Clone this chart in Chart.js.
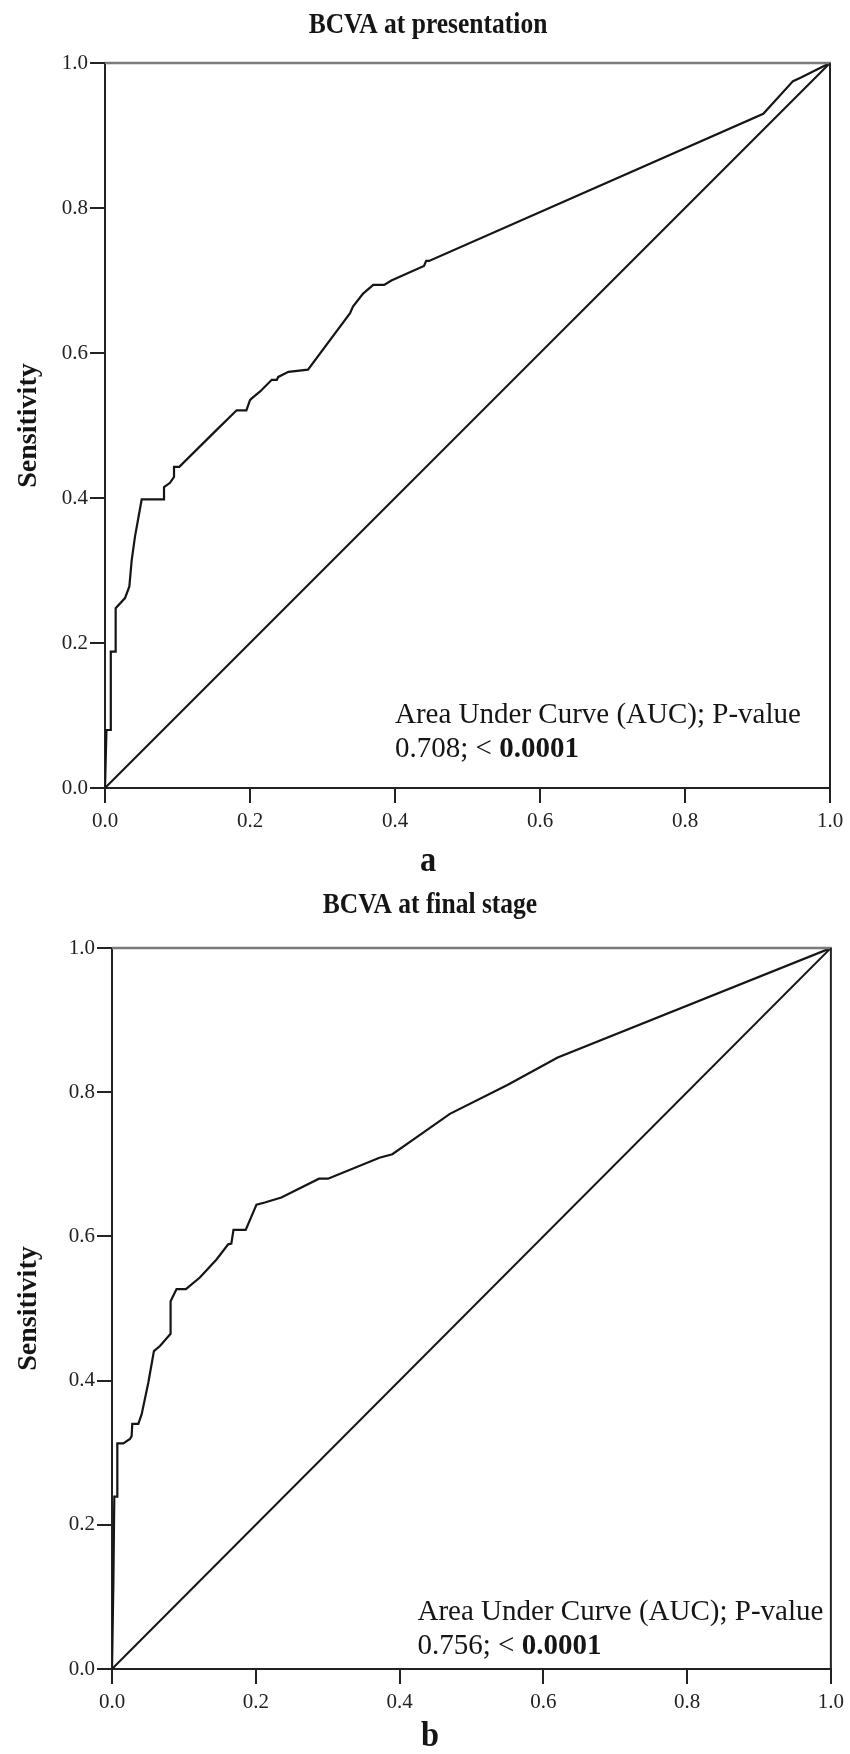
<!DOCTYPE html>
<html><head><meta charset="utf-8">
<script src="https://cdn.jsdelivr.net/npm/chart.js@4/dist/chart.umd.min.js"></script>
<style>
html,body{margin:0;padding:0;background:#fff;}
.wrap{position:absolute;left:0;width:850px;}
#w1{top:0;height:880px;}
#w2{top:880px;height:874px;}
</style></head><body>
<div class="wrap" id="w1"><canvas id="c1"></canvas></div>
<div class="wrap" id="w2"><canvas id="c2"></canvas></div>
<script>
// ---------- data ----------
const xTicks = [0, 0.2, 0.4, 0.6, 0.8, 1.0];
const yTicks = [0, 0.2, 0.4, 0.6, 0.8, 1.0];
const refFpr = [0, 1];
const refSens = [0, 1];

const titles = ["BCVA at presentation", "BCVA at final stage"];
const panelLabels = ["a", "b"];
const aucHeader = "Area Under Curve (AUC); P-value";
const aucValues = ["0.708; < ", "0.756; < "];
const pValues = ["0.0001", "0.0001"];
const yTitle = "Sensitivity";

// Panel a: BCVA at presentation (1 - specificity, sensitivity)
const fprA = [0, 0.002, 0.008, 0.008, 0.0147, 0.0147, 0.0276, 0.0336, 0.0368, 0.0414, 0.0506, 0.0814, 0.0814, 0.0897, 0.0952, 0.0952, 0.1025, 0.154, 0.1816, 0.195, 0.2, 0.202, 0.214, 0.23, 0.237, 0.239, 0.253, 0.28, 0.338, 0.342, 0.356, 0.37, 0.385, 0.395, 0.44, 0.443, 0.447, 0.908, 0.949, 0.96, 1.0];
const sensA = [0, 0.08, 0.08, 0.188, 0.188, 0.248, 0.262, 0.278, 0.314, 0.347, 0.398, 0.398, 0.415, 0.421, 0.429, 0.443, 0.443, 0.494, 0.521, 0.521, 0.535, 0.537, 0.547, 0.563, 0.563, 0.567, 0.574, 0.577, 0.655, 0.664, 0.682, 0.694, 0.694, 0.70, 0.72, 0.727, 0.727, 0.93, 0.975, 0.98, 1.0];

// Panel b: BCVA at final stage
const fprB = [0, 0.0019, 0.0032, 0.0074, 0.0074, 0.0157, 0.025, 0.0273, 0.0282, 0.0366, 0.0412, 0.0505, 0.0583, 0.0667, 0.0815, 0.0815, 0.0898, 0.1028, 0.1222, 0.1454, 0.1616, 0.166, 0.169, 0.186, 0.201, 0.2125, 0.2356, 0.288, 0.3005, 0.372, 0.39, 0.42, 0.47, 0.55, 0.62, 1.0];
const sensB = [0, 0.119, 0.239, 0.239, 0.313, 0.313, 0.319, 0.323, 0.340, 0.340, 0.353, 0.397, 0.441, 0.448, 0.465, 0.510, 0.527, 0.527, 0.543, 0.568, 0.589, 0.590, 0.609, 0.609, 0.644, 0.647, 0.654, 0.680, 0.680, 0.709, 0.714, 0.735, 0.77, 0.81, 0.848, 1.0];

// ---------- drawing ----------
const FONT = "'Liberation Serif','Times New Roman',serif";
const INK = '#151515';

function squeezedText(ctx, text, cx, y, sx) {
  ctx.save();
  ctx.translate(cx, y);
  ctx.scale(sx, 1);
  ctx.fillText(text, 0, 0);
  ctx.restore();
}

const extras = {
  id: 'extras',
  afterDraw(chart) {
    const o = chart.options.plugins.extras;
    const {ctx, chartArea: a} = chart;
    const xs = chart.scales.x, ys = chart.scales.y;
    ctx.save();
    // frame top & right
    ctx.strokeStyle = '#7a7a7a'; ctx.lineWidth = 2.5;
    ctx.beginPath(); ctx.moveTo(a.left, a.top); ctx.lineTo(a.right + 1, a.top); ctx.stroke();
    ctx.strokeStyle = '#222'; ctx.lineWidth = 2;
    ctx.beginPath(); ctx.moveTo(a.right, a.top); ctx.lineTo(a.right, a.bottom); ctx.stroke();
    ctx.fillStyle = INK;
    // title (condensed)
    ctx.textAlign = 'center'; ctx.textBaseline = 'alphabetic';
    ctx.font = `bold 29px ${FONT}`;
    squeezedText(ctx, o.title, o.cx, o.titleY, 0.88);
    // panel label
    ctx.font = `bold 36px ${FONT}`;
    squeezedText(ctx, o.panel, o.cx, o.panelY, 0.9);
    // AUC annotation
    ctx.textAlign = 'left';
    const px = xs.getPixelForValue(o.aucX);
    ctx.font = `29px ${FONT}`;
    ctx.fillText(aucHeader, px, ys.getPixelForValue(o.aucY1));
    const y2 = ys.getPixelForValue(o.aucY2);
    ctx.fillText(o.aucVal, px, y2);
    const w = ctx.measureText(o.aucVal).width;
    ctx.font = `bold 29px ${FONT}`;
    ctx.fillText(o.pVal, px + w, y2);
    ctx.restore();
  }
};

function toPts(xa, ya) { return xa.map((v, i) => ({x: v, y: ya[i]})); }

function axis(ticksArr, extra) {
  return Object.assign({
    type: 'linear', min: 0, max: 1,
    afterBuildTicks: s => { s.ticks = ticksArr.map(v => ({value: v})); },
    ticks: { callback: v => Number(v).toFixed(1), font: {family: FONT, size: 21}, color: '#222', autoSkip: false, maxRotation: 0 },
    grid: { drawOnChartArea: false, drawTicks: true, tickLength: 15, color: '#222', lineWidth: 2 },
    border: { display: true, color: '#222', width: 2 }
  }, extra);
}

function makeChart(id, fpr, sens, idx, L) {
  const cfg = {
    type: 'scatter',
    data: { datasets: [
      { data: toPts(fpr, sens), showLine: true, borderColor: INK, borderWidth: 2.2, pointRadius: 0, tension: 0, fill: false },
      { data: toPts(refFpr, refSens), showLine: true, borderColor: INK, borderWidth: 2, pointRadius: 0, tension: 0, fill: false }
    ]},
    options: {
      responsive: true, maintainAspectRatio: false, animation: false, devicePixelRatio: 1,
      layout: { padding: { top: L.top, right: L.right, bottom: L.bottom, left: 0 } },
      plugins: {
        legend: { display: false }, tooltip: { enabled: false },
        extras: { title: titles[idx], panel: panelLabels[idx], cx: L.cx, titleY: L.titleY, panelY: L.panelY,
                  aucX: L.aucX, aucY1: L.aucY1, aucY2: L.aucY2, aucVal: aucValues[idx], pVal: pValues[idx] }
      },
      scales: {
        x: axis(xTicks, { afterFit: s => { s.height = 60; } }),
        y: axis(yTicks, {
          afterFit: s => { s.width = L.yw; },
          title: { display: true, text: yTitle, color: INK, font: {family: FONT, size: 28, weight: 'bold'}, padding: {top: 12, bottom: 0} }
        })
      }
    },
    plugins: [extras]
  };
  cfg.options.scales.x.ticks.padding = 6;
  cfg.options.scales.y.ticks.padding = 2;
  return new Chart(document.getElementById(id), cfg);
}

makeChart('c1', fprA, sensA, 0, { top: 63, right: 20, bottom: 32, yw: 105, cx: 428, titleY: 33, panelY: 871, aucX: 0.40, aucY1: 0.0897, aucY2: 0.0428 });
makeChart('c2', fprB, sensB, 1, { top: 68, right: 18, bottom: 25, yw: 112, cx: 430, titleY: 33, panelY: 866, aucX: 0.425, aucY1: 0.068, aucY2: 0.0208 });
</script>
</body></html>
